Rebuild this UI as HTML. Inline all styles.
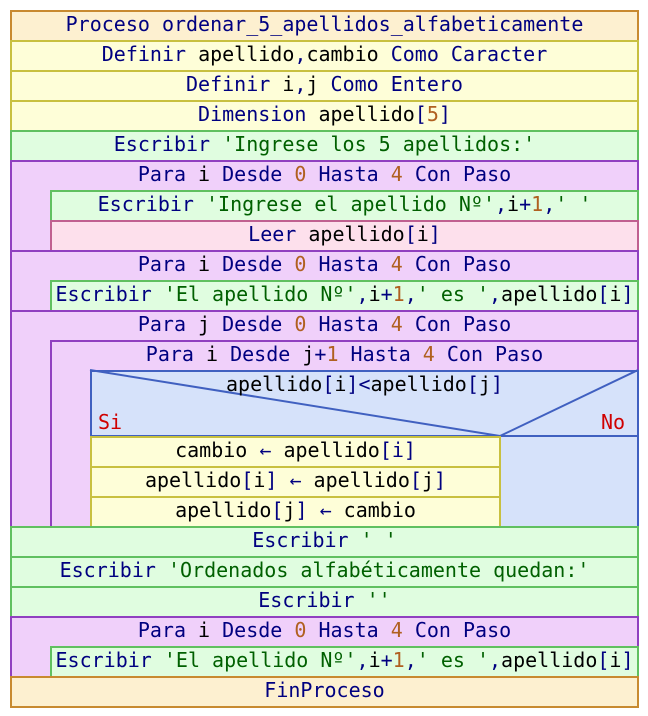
<!DOCTYPE html>
<html><head><meta charset="utf-8"><style>
body{margin:0;width:648px;height:716px;background:#fff;position:relative;overflow:hidden;font-family:"DejaVu Sans Mono","Liberation Mono",monospace;font-size:20px}
.b{position:absolute;box-sizing:border-box;border:2px solid;}
.t{position:absolute;height:30px;line-height:29px;text-align:center;white-space:pre;color:#000080}
.pr{background:#fdf0d0;border-color:#c88a30}
.df{background:#fefed8;border-color:#c8c040}
.es{background:#e0fde0;border-color:#60c060}
.pa{background:#f0d0fa;border-color:#9040c0}
.le{background:#fde0ec;border-color:#c06090}
.si{background:#d6e2fa;border-color:#4060c0}
.s{color:#006000}.n{color:#b06020}.v{color:#000}.r{color:#d00000}
</style></head><body>
<div class="b pr" style="left:10px;top:10px;width:629px;height:32px"></div>
<div class="t" style="left:10px;top:10px;width:629px">Proceso ordenar_5_apellidos_alfabeticamente</div>
<div class="b df" style="left:10px;top:40px;width:629px;height:32px"></div>
<div class="t" style="left:10px;top:40px;width:629px">Definir <span class="v">apellido</span>,<span class="v">cambio</span> Como Caracter</div>
<div class="b df" style="left:10px;top:70px;width:629px;height:32px"></div>
<div class="t" style="left:10px;top:70px;width:629px">Definir <span class="v">i</span>,<span class="v">j</span> Como Entero</div>
<div class="b df" style="left:10px;top:100px;width:629px;height:32px"></div>
<div class="t" style="left:10px;top:100px;width:629px">Dimension <span class="v">apellido</span>[<span class="n">5</span>]</div>
<div class="b es" style="left:10px;top:130px;width:629px;height:32px"></div>
<div class="t" style="left:10px;top:130px;width:629px">Escribir <span class="s">'Ingrese los 5 apellidos:'</span></div>

<div class="b pa" style="left:10px;top:160px;width:629px;height:92px"></div>
<div class="t" style="left:10px;top:160px;width:629px">Para <span class="v">i</span> Desde <span class="n">0</span> Hasta <span class="n">4</span> Con Paso</div>
<div class="b es" style="left:50px;top:190px;width:589px;height:32px"></div>
<div class="t" style="left:50px;top:190px;width:589px">Escribir <span class="s">'Ingrese el apellido Nº'</span>,<span class="v">i</span>+<span class="n">1</span>,<span class="s">' '</span></div>
<div class="b le" style="left:50px;top:220px;width:589px;height:32px"></div>
<div class="t" style="left:50px;top:220px;width:589px">Leer <span class="v">apellido</span>[<span class="v">i</span>]</div>

<div class="b pa" style="left:10px;top:250px;width:629px;height:62px"></div>
<div class="t" style="left:10px;top:250px;width:629px">Para <span class="v">i</span> Desde <span class="n">0</span> Hasta <span class="n">4</span> Con Paso</div>
<div class="b es" style="left:50px;top:280px;width:589px;height:32px"></div>
<div class="t" style="left:50px;top:280px;width:589px">Escribir <span class="s">'El apellido Nº'</span>,<span class="v">i</span>+<span class="n">1</span>,<span class="s">' es '</span>,<span class="v">apellido</span>[<span class="v">i</span>]</div>

<div class="b pa" style="left:10px;top:310px;width:629px;height:218px"></div>
<div class="t" style="left:10px;top:310px;width:629px">Para <span class="v">j</span> Desde <span class="n">0</span> Hasta <span class="n">4</span> Con Paso</div>
<div class="b pa" style="left:50px;top:340px;width:589px;height:188px"></div>
<div class="t" style="left:50px;top:340px;width:589px">Para <span class="v">i</span> Desde <span class="v">j</span>+<span class="n">1</span> Hasta <span class="n">4</span> Con Paso</div>
<div class="b si" style="left:90px;top:370px;width:549px;height:158px"></div>
<svg style="position:absolute;left:0;top:0" width="648" height="716"><g stroke="#4060c0" stroke-width="2" fill="none"><line x1="90" y1="370" x2="500" y2="436"/><line x1="638" y1="370" x2="500" y2="436"/><line x1="90" y1="436" x2="638" y2="436"/></g></svg>
<div class="t" style="left:90px;top:370px;width:549px"><span class="v">apellido</span>[<span class="v">i</span>]&lt;<span class="v">apellido</span>[<span class="v">j</span>]</div>
<div class="t r" style="left:98px;top:408px">Si</div>
<div class="t r" style="left:601px;top:408px">No</div>
<div class="b df" style="left:90px;top:436px;width:411px;height:32px"></div>
<div class="t v" style="left:90px;top:436px;width:411px">cambio <span style="color:#000080">←</span> apellido<span style="color:#000080">[i]</span></div>
<div class="b df" style="left:90px;top:466px;width:411px;height:32px"></div>
<div class="t v" style="left:90px;top:466px;width:411px">apellido<span style="color:#000080">[</span>i<span style="color:#000080">]</span> <span style="color:#000080">←</span> apellido<span style="color:#000080">[</span>j<span style="color:#000080">]</span></div>
<div class="b df" style="left:90px;top:496px;width:411px;height:32px"></div>
<div class="t v" style="left:90px;top:496px;width:411px">apellido<span style="color:#000080">[</span>j<span style="color:#000080">]</span> <span style="color:#000080">←</span> cambio</div>

<div class="b es" style="left:10px;top:526px;width:629px;height:32px"></div>
<div class="t" style="left:10px;top:526px;width:629px">Escribir <span class="s">' '</span></div>
<div class="b es" style="left:10px;top:556px;width:629px;height:32px"></div>
<div class="t" style="left:10px;top:556px;width:629px">Escribir <span class="s">'Ordenados alfabéticamente quedan:'</span></div>
<div class="b es" style="left:10px;top:586px;width:629px;height:32px"></div>
<div class="t" style="left:10px;top:586px;width:629px">Escribir <span class="s">''</span></div>
<div class="b pa" style="left:10px;top:616px;width:629px;height:62px"></div>
<div class="t" style="left:10px;top:616px;width:629px">Para <span class="v">i</span> Desde <span class="n">0</span> Hasta <span class="n">4</span> Con Paso</div>
<div class="b es" style="left:50px;top:646px;width:589px;height:32px"></div>
<div class="t" style="left:50px;top:646px;width:589px">Escribir <span class="s">'El apellido Nº'</span>,<span class="v">i</span>+<span class="n">1</span>,<span class="s">' es '</span>,<span class="v">apellido</span>[<span class="v">i</span>]</div>
<div class="b pr" style="left:10px;top:676px;width:629px;height:32px"></div>
<div class="t" style="left:10px;top:676px;width:629px">FinProceso</div>
</body></html>
